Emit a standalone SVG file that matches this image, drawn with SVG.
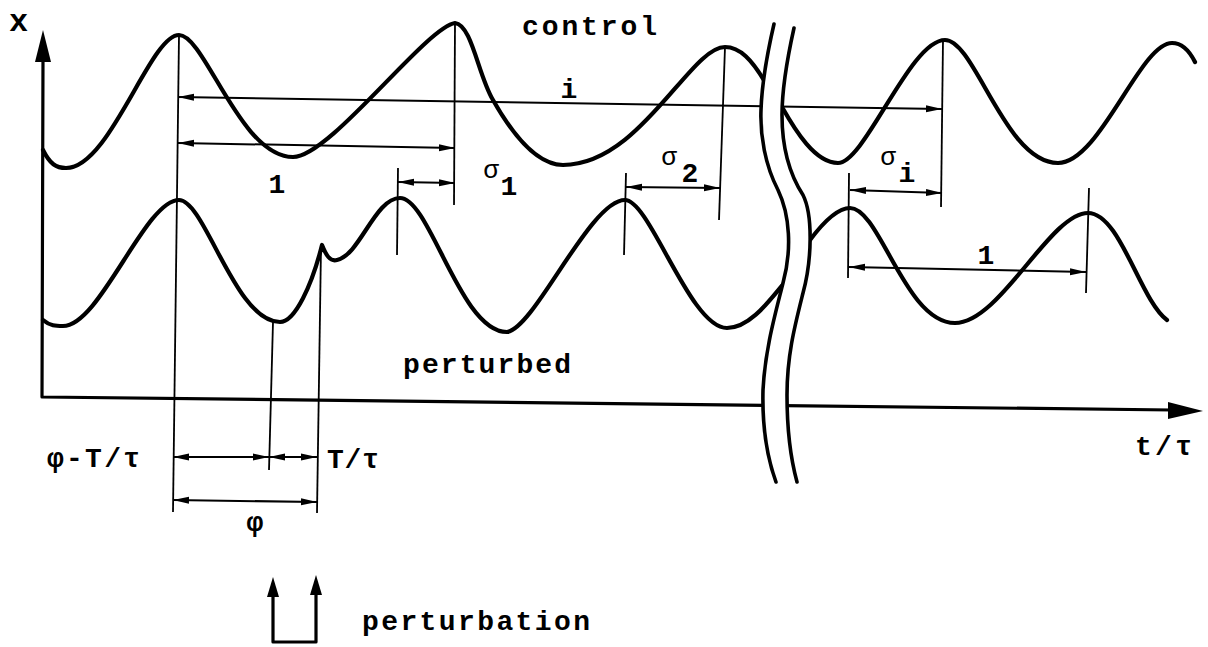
<svg xmlns="http://www.w3.org/2000/svg" width="1208" height="647" viewBox="0 0 1208 647">
<style>
.curve{fill:none;stroke:#000;stroke-width:4.2;stroke-linecap:round;stroke-linejoin:round}
.thin{fill:none;stroke:#000;stroke-width:1.8}
.dim{fill:none;stroke:#000;stroke-width:2;marker-start:url(#ah);marker-end:url(#ah)}
.axis{fill:none;stroke:#000;stroke-width:3.2;stroke-linejoin:round}
.brk{fill:none;stroke:#000;stroke-width:3.6;stroke-linecap:round}
.lbl{font-family:"Liberation Mono","DejaVu Sans Mono",monospace;font-weight:bold;fill:#000}
.gr{font-family:"Liberation Mono","DejaVu Sans Mono",monospace;fill:#000}
</style>
<defs>
<marker id="ah" viewBox="0 0 16 8" refX="16" refY="4" markerWidth="16" markerHeight="8" markerUnits="userSpaceOnUse" orient="auto-start-reverse">
<path d="M0,0.5 L16,4 L0,7.5 Z" fill="#000"/>
</marker>
</defs>
<rect width="1208" height="647" fill="#fff"/>

<g id="control-curve">
<path class="curve" d="M43,150 C50,164 56,168 66,168 C110,168 150,35 179,35 C205,35 240,157 293,157 C330,157 425,28 455,23 C472,25 478,75 493,100 C510,130 535,165 563,165 C640,165 690,47 725,47 C740,47 752,60 765,82"/>
<path class="curve" d="M782,107 C795,130 815,163 838,163 C865,163 910,40 945,40 C975,40 1005,163 1058,163 C1100,163 1140,43 1172,43 C1182,43 1190,52 1195,62"/>
</g>

<g id="perturbed-curve">
<path class="curve" d="M43,320 C50,326 56,326 63,326 C100,326 145,200 179,200 C205,200 235,322 280,322 C295,322 312,285 322,245 C326,255 330,262 337,260 C360,255 375,198 400,198 C430,198 460,332 507,332 C535,328 590,200 625,200 C650,200 690,328 727,328 C750,328 770,300 785,282"/>
<path class="curve" d="M810,240 C825,220 838,208 850,208 C880,208 905,323 955,323 C1000,323 1050,213 1088,213 C1120,213 1140,300 1167,320"/>
</g>

<g id="connectors">
<path class="thin" d="M179,35 L173,512"/>
<path class="thin" d="M455,23 L454,205"/>
<path class="thin" d="M398,168 L397,255"/>
<path class="thin" d="M725,47 L719,220"/>
<path class="thin" d="M626,173 L624,255"/>
<path class="thin" d="M943,40 L941,207"/>
<path class="thin" d="M849,173 L848,278"/>
<path class="thin" d="M1089,188 L1086,293"/>
<path class="thin" d="M273,322 L269,470"/>
<path class="thin" d="M321,247 L317,513"/>

<path class="dim" d="M178,97 L942,109"/>
<path class="dim" d="M178,143 L455,148"/>
<path class="dim" d="M398,182 L455,183"/>
<path class="dim" d="M626,187 L720,188"/>
<path class="dim" d="M850,190 L942,193"/>
<path class="dim" d="M849,267 L1086,272"/>
<path class="dim" d="M173,457 L269,457"/>
<path class="dim" d="M269,457 L317,457"/>
<path class="dim" d="M173,500 L317,502"/>
</g>

<g id="axes">
<path class="axis" d="M43,58 L42,397 L1172,410"/>
<polygon points="43,30 35,62 51,62" fill="#000"/>
<polygon points="1203,411 1168,402 1168,419" fill="#000"/>
</g>

<g id="break">
<path fill="#fff" d="M774,24 C768,50 762,80 761,110 C760,135 765,165 778,190 C790,215 792,250 783,283 C775,315 765,350 763,390 C762,430 768,460 776,482 L797,482 C791,460 787,430 787,395 C787,355 795,325 803,293 C812,260 813,215 803,195 C790,175 782,150 782,115 C782,85 788,55 794,28 Z"/>
<path class="brk" d="M774,24 C768,50 762,80 761,110 C760,135 765,165 778,190 C790,215 792,250 783,283 C775,315 765,350 763,390 C762,430 768,460 776,482"/>
<path class="brk" d="M794,28 C788,55 782,85 782,115 C782,150 790,175 803,195 C813,215 812,260 803,293 C795,325 787,355 787,395 C787,430 791,460 797,482"/>
</g>

<g id="perturbation">
<path class="axis" d="M273,594 L273,642 L316,642 L316,592"/>
<polygon points="273,577 267,597 279,597" fill="#000"/>
<polygon points="316,575 310,595 322,595" fill="#000"/>
</g>

<g id="labels">
<text class="lbl" x="9" y="31" font-size="32">x</text>
<text class="lbl" x="522" y="35" font-size="28" textLength="135">control</text>
<text class="lbl" x="569" y="98" font-size="28" text-anchor="middle">i</text>
<text class="lbl" x="277" y="193" font-size="28" text-anchor="middle">1</text>
<text class="gr" x="491" y="178" font-size="26" text-anchor="middle">σ</text>
<text class="lbl" x="509" y="195" font-size="28" text-anchor="middle">1</text>
<text class="gr" x="669" y="165" font-size="26" text-anchor="middle">σ</text>
<text class="lbl" x="690" y="182" font-size="28" text-anchor="middle">2</text>
<text class="gr" x="888" y="165" font-size="26" text-anchor="middle">σ</text>
<text class="lbl" x="907" y="182" font-size="28" text-anchor="middle">i</text>
<text class="lbl" x="986" y="264" font-size="28" text-anchor="middle">1</text>
<text class="lbl" x="403" y="373" font-size="28" textLength="168">perturbed</text>
<text class="lbl" x="1135" y="455" font-size="28" textLength="57">t/τ</text>
<text class="lbl" x="47" y="467" font-size="28" textLength="93">φ-T/τ</text>
<text class="lbl" x="327" y="468" font-size="28" textLength="52">T/τ</text>
<text class="lbl" x="255" y="531" font-size="28" text-anchor="middle">φ</text>
<text class="lbl" x="362" y="630" font-size="28" textLength="228">perturbation</text>
</g>
</svg>
